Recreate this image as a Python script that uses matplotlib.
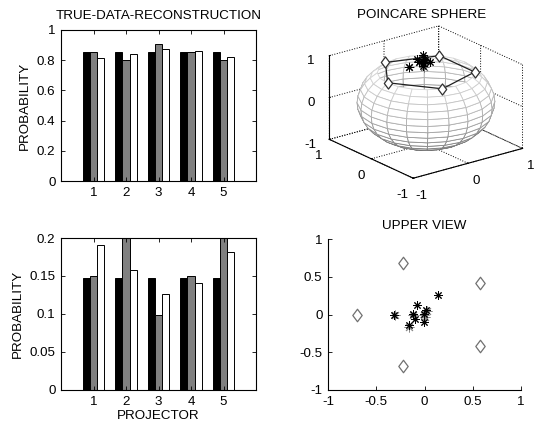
import numpy as np
import matplotlib
matplotlib.use('Agg')
import matplotlib.pyplot as plt
from matplotlib.path import Path
from mpl_toolkits.mplot3d.art3d import Poly3DCollection

plt.rcParams['font.family'] = ['Liberation Sans', 'DejaVu Sans']
plt.rcParams['font.size'] = 9.6
plt.rcParams['axes.titlesize'] = 9.6
plt.rcParams['grid.linestyle'] = ':'
plt.rcParams['grid.color'] = 'black'
plt.rcParams['grid.linewidth'] = 0.7

# ---------------- data ----------------
projectors = [1, 2, 3, 4, 5]
true_top = [0.857, 0.857, 0.857, 0.857, 0.857]
data_top = [0.857, 0.800, 0.905, 0.857, 0.800]
recon_top = [0.812, 0.841, 0.876, 0.861, 0.821]

true_bot = [0.147, 0.147, 0.147, 0.147, 0.147]
data_bot = [0.150, 0.200, 0.099, 0.150, 0.200]
recon_bot = [0.191, 0.158, 0.126, 0.141, 0.181]

dia_x = [-0.70, -0.22, 0.57, 0.57, -0.22]
dia_y = [0.00, 0.68, 0.42, -0.42, -0.68]
dia_z = [0.71, 0.71, 0.71, 0.71, 0.71]

star_x = [-0.315, -0.073, 0.139, -0.156, -0.114, -0.097, -0.010, 0.018, -0.010]
star_y = [0.000, 0.124, 0.260, -0.133, 0.013, -0.053, 0.013, 0.066, -0.098]
star_z = [0.949, 0.990, 0.955, 0.979, 0.993, 0.994, 1.000, 0.998, 0.995]

gstar_x = [-0.310, -0.160, -0.120, -0.010, 0.000, 0.025]
gstar_y = [-0.010, -0.170, 0.000, 0.000, -0.030, 0.050]
gstar_z = [0.950, 0.973, 0.993, 1.000, 1.000, 0.998]

bar_colors = ['black', '#808080', 'white']
bar_w = 0.222
offsets = [-0.222, 0.0, 0.222]

diamond = Path([(0, 1), (0.75, 0), (0, -1), (-0.75, 0), (0, 1)],
               [Path.MOVETO, Path.LINETO, Path.LINETO, Path.LINETO, Path.CLOSEPOLY])
asterisk = (8, 2, 0)

W, H = 536, 428
fig = plt.figure(figsize=(W / 100, H / 100), dpi=100)


def px_axes(l, t, r, b):
    return [l / W, 1 - b / H, (r - l) / W, (b - t) / H]


def style2d(ax, box=True):
    for s in ax.spines.values():
        s.set_linewidth(0.8)
    if not box:
        ax.spines['top'].set_visible(False)
        ax.spines['right'].set_visible(False)
    ax.tick_params(direction='in', length=3, width=0.6, top=box, right=box, pad=4)


# top-left bars
ax1 = fig.add_axes(px_axes(61, 30, 256, 181))
x = np.array(projectors)
for series, c, o in zip([true_top, data_top, recon_top], bar_colors, offsets):
    ax1.bar(x + o, series, width=bar_w, color=c, edgecolor='black', linewidth=0.7)
ax1.set_xlim(0, 6)
ax1.set_ylim(0, 1)
ax1.set_xticks(projectors)
ax1.set_yticks([0, 0.2, 0.4, 0.6, 0.8, 1])
ax1.set_yticklabels(['0', '0.2', '0.4', '0.6', '0.8', '1'])
ax1.set_ylabel('PROBABILITY', labelpad=4)
ax1.set_title('TRUE-DATA-RECONSTRUCTION', pad=8)
style2d(ax1)

# bottom-left bars
ax2 = fig.add_axes(px_axes(61, 238, 256, 390))
for series, c, o in zip([true_bot, data_bot, recon_bot], bar_colors, offsets):
    ax2.bar(x + o, series, width=bar_w, color=c, edgecolor='black', linewidth=0.7)
ax2.set_xlim(0, 6)
ax2.set_ylim(0, 0.2)
ax2.set_xticks(projectors)
ax2.set_yticks([0, 0.05, 0.1, 0.15, 0.2])
ax2.set_yticklabels(['0', '0.05', '0.1', '0.15', '0.2'])
ax2.set_ylabel('PROBABILITY', labelpad=4)
ax2.set_xlabel('PROJECTOR', labelpad=2)
style2d(ax2)

# bottom-right upper view
ax4 = fig.add_axes(px_axes(328, 239, 521, 390))
ax4.plot(dia_x, dia_y, linestyle='none', marker=diamond, markersize=9,
         markerfacecolor='white', markeredgecolor='#707070', markeredgewidth=0.9)
ax4.plot(gstar_x, gstar_y, linestyle='none', marker=asterisk, markersize=7,
         color='#8a8a8a', markeredgewidth=0.7)
ax4.plot(star_x, star_y, linestyle='none', marker=asterisk, markersize=6,
         color='black', markeredgewidth=0.7)
ax4.set_xlim(-1, 1)
ax4.set_ylim(-1, 1)
ax4.set_xticks([-1, -0.5, 0, 0.5, 1])
ax4.set_xticklabels(['-1', '-0.5', '0', '0.5', '1'])
ax4.set_yticks([-1, -0.5, 0, 0.5, 1])
ax4.set_yticklabels(['-1', '-0.5', '0', '0.5', '1'])
ax4.set_title('UPPER VIEW', pad=7)
style2d(ax4, box=False)

# top-right 3D sphere
ax3 = fig.add_axes(px_axes(305, 14, 542, 195), projection='3d', computed_zorder=False)
ax3.set_proj_type('ortho')
ax3.view_init(elev=20.8, azim=-127.5)
ax3.set_box_aspect((1, 1, 0.65), zoom=1.15)

theta = np.radians(np.arange(45, 181, 9))
phi = np.linspace(-np.pi, np.pi, 21)
TH, PH = np.meshgrid(theta, phi)
SX = np.sin(TH) * np.cos(PH)
SY = np.sin(TH) * np.sin(PH)
SZ = np.cos(TH)
verts, ecols = [], []
for i in range(SX.shape[0] - 1):
    for j in range(SX.shape[1] - 1):
        q = [(SX[i, j], SY[i, j], SZ[i, j]), (SX[i + 1, j], SY[i + 1, j], SZ[i + 1, j]),
             (SX[i + 1, j + 1], SY[i + 1, j + 1], SZ[i + 1, j + 1]), (SX[i, j + 1], SY[i, j + 1], SZ[i, j + 1])]
        verts.append(q)
        zm = np.mean([p[2] for p in q])
        g = 0.40 + 0.45 * (zm + 1) / 1.7
        ecols.append((g, g, g))
surf = Poly3DCollection(verts, facecolors='white', edgecolors=ecols, linewidths=0.6)
ax3.add_collection3d(surf)

ax3.plot(dia_x + dia_x[:1], dia_y + dia_y[:1], dia_z + dia_z[:1], color='#202020', linewidth=0.9)
ax3.plot(dia_x, dia_y, dia_z, linestyle='none', marker=diamond, markersize=8,
         markerfacecolor='white', markeredgecolor='#303030', markeredgewidth=0.9)
ax3.plot(gstar_x, gstar_y, gstar_z, linestyle='none', marker=asterisk, markersize=7,
         color='#707070', markeredgewidth=0.7)
ax3.plot(star_x, star_y, star_z, linestyle='none', marker=asterisk, markersize=6,
         color='black', markeredgewidth=0.7)

ax3.set_xlim(-1, 1)
ax3.set_ylim(-1, 1)
ax3.set_zlim(-1, 1)
for axis in (ax3.xaxis, ax3.yaxis, ax3.zaxis):
    axis.set_pane_color((1, 1, 1, 0))
    axis.line.set_color('black')
    axis.line.set_linewidth(0.8)
    axis._axinfo['tick']['inward_factor'] = 0.0
    axis._axinfo['tick']['outward_factor'] = 0.1
ax3.set_xticks([-1, 0, 1])
ax3.set_yticks([-1, 0, 1])
ax3.set_zticks([-1, 0, 1])
ax3.set_xticklabels(['-1', '0', '1'])
ax3.set_yticklabels(['-1', '0', '1'])
ax3.set_zticklabels(['-1', '0', '1'])
ax3.tick_params(pad=-1.5)
fig.text(422 / W, 1 - 15 / H, 'POINCARE SPHERE', ha='center', va='center')

fig.savefig('out.png', dpi=100)
